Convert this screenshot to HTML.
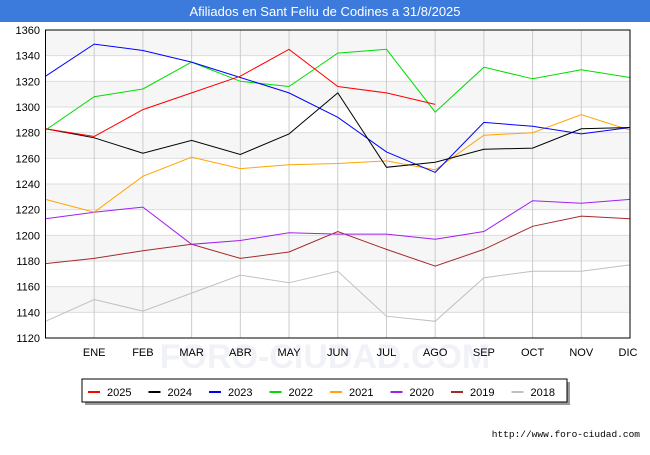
<!DOCTYPE html>
<html><head><meta charset="utf-8"><style>
body{margin:0;width:650px;height:450px;background:#fff;font-family:"Liberation Sans",sans-serif;overflow:hidden}
</style></head><body>
<svg width="650" height="450" xmlns="http://www.w3.org/2000/svg">
<rect x="0" y="0" width="650" height="22" fill="#3c7bdc"/>
<text x="325" y="16" text-anchor="middle" fill="#fff" font-size="13">Afiliados en Sant Feliu de Codines a 31/8/2025</text>
<g id="bands"></g><g id="grid"></g>
<text x="325" y="368" text-anchor="middle" font-size="34" fill="#f0f2f8" font-weight="bold">FORO-CIUDAD.COM</text>
<g id="series"></g>
<rect x="45.5" y="30" width="584.5" height="308" fill="none" stroke="#000"/>
<g id="axes" font-size="11" fill="#000"></g>
<rect x="85" y="382" width="485" height="23" fill="#999"/>
<rect x="82" y="379" width="485" height="23" fill="#fff" stroke="#000"/>
<g id="legend" font-size="11"></g>
<text x="640" y="437" text-anchor="end" font-size="9.5" font-family="Liberation Mono, monospace">http://www.foro-ciudad.com</text>
</svg>
<script>
const months=["","ENE","FEB","MAR","ABR","MAY","JUN","JUL","AGO","SEP","OCT","NOV","DIC"];
const yTicks=[1120,1140,1160,1180,1200,1220,1240,1260,1280,1300,1320,1340,1360];
const seriesNames=["2025","2024","2023","2022","2021","2020","2019","2018"];
const seriesColors=["#ff0000","#000000","#0000ff","#00dd00","#ffa500","#a020f0","#a52a2a","#c0c0c0"];
const s2025=[1283,1277,1298,1311,1324,1345,1316,1311,1302];
const s2024=[1283,1276,1264,1274,1263,1279,1311,1253,1257,1267,1268,1283,1284];
const s2023=[1324,1349,1344,1335,1323,1311,1292,1265,1249,1288,1285,1279,1284];
const s2022=[1282,1308,1314,1335,1320,1316,1342,1345,1296,1331,1322,1329,1323];
const s2021=[1228,1218,1246,1261,1252,1255,1256,1258,1251,1278,1280,1294,1282];
const s2020=[1213,1218,1222,1193,1196,1202,1201,1201,1197,1203,1227,1225,1228];
const s2019=[1178,1182,1188,1193,1182,1187,1203,1189,1176,1189,1207,1215,1213];
const s2018=[1133,1150,1141,1155,1169,1163,1172,1137,1133,1167,1172,1172,1177];
const allSeries=[s2025,s2024,s2023,s2022,s2021,s2020,s2019,s2018];
const X0=45.5,X1=630,Y0=338,Y1=30,VMIN=1120,VMAX=1360;
const xs=i=>X0+i*(X1-X0)/(months.length-1);
const ys=v=>Y0-(v-VMIN)*(Y0-Y1)/(VMAX-VMIN);
const NS="http://www.w3.org/2000/svg";
function mk(t,a,p){const e=document.createElementNS(NS,t);for(const k in a)e.setAttribute(k,a[k]);p.appendChild(e);return e;}
const bands=document.getElementById('bands'),grid=document.getElementById('grid'),axes=document.getElementById('axes');
for(let i=0;i<yTicks.length-1;i++){if(i%2==1){const r=mk('rect',{x:X0,y:ys(yTicks[i+1]),width:X1-X0,height:ys(yTicks[i])-ys(yTicks[i+1]),fill:'#f6f6f6'},bands);

}}
yTicks.forEach(v=>{const l=mk('line',{x1:X0,x2:X1,y1:ys(v),y2:ys(v),stroke:'#ddd'},grid);


const t=mk('text',{x:40,y:ys(v)+4,'text-anchor':'end'},axes);t.textContent=v;

});
months.forEach((m,i)=>{if(i==0)return;const l=mk('line',{x1:xs(i),x2:xs(i),y1:Y1,y2:Y0,stroke:'#ccc'},grid);


const t=mk('text',{x:xs(i)-(i==12?2:0),y:356,'text-anchor':'middle'},axes);t.textContent=m;

});
const sg=document.getElementById('series');
for(let k=allSeries.length-1;k>=0;k--){const d=allSeries[k].map((v,i)=>xs(i).toFixed(1)+','+ys(v).toFixed(1)).join(' ');
const p=mk('polyline',{points:d,fill:'none',stroke:seriesColors[k],'stroke-width':1},sg);

}
const lg=document.getElementById('legend');
seriesNames.forEach((n,k)=>{const x=88+k*60.5;const l=mk('line',{x1:x,x2:x+12,y1:392,y2:392,stroke:seriesColors[k],'stroke-width':2},lg);


const t=mk('text',{x:x+19,y:396},lg);t.textContent=n;

});
</script>
</body></html>
